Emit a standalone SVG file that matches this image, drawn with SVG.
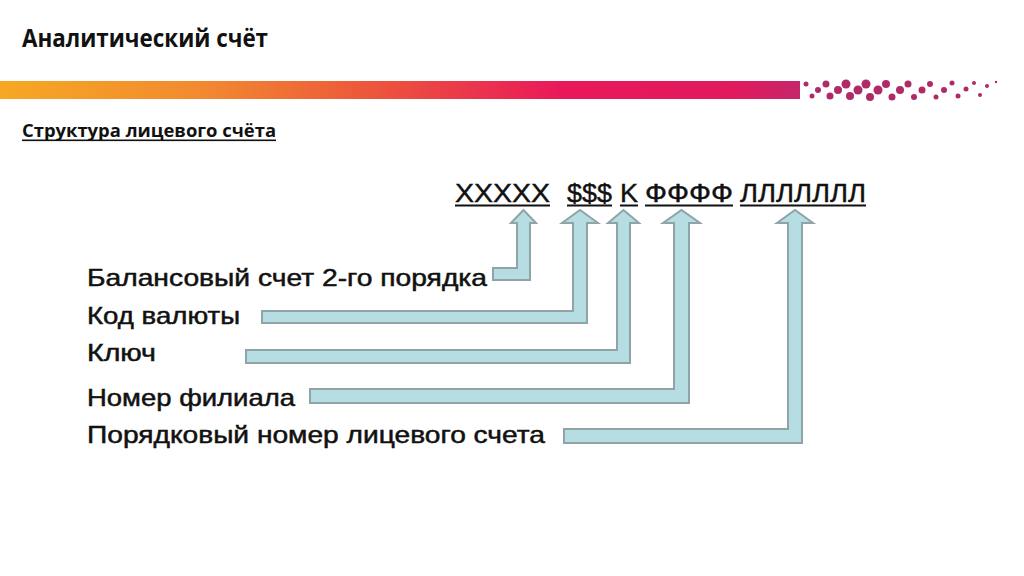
<svg xmlns="http://www.w3.org/2000/svg" width="1024" height="576" viewBox="0 0 1024 576">
<defs>
<linearGradient id="bar" x1="0" y1="0" x2="1" y2="0" gradientUnits="objectBoundingBox">
<stop offset="0" stop-color="#f6a823"/>
<stop offset="0.25" stop-color="#f28a30"/>
<stop offset="0.45" stop-color="#ec5a3a"/>
<stop offset="0.7" stop-color="#e9195a"/>
<stop offset="0.92" stop-color="#e01a5e"/>
<stop offset="1" stop-color="#c5276a"/>
</linearGradient>
<style>
.t{font-family:"Open Sans","Liberation Sans",sans-serif;font-weight:bold;fill:#111}
.code{font-family:"Liberation Sans",Arial,sans-serif;font-size:25px;fill:#111;stroke:#111;stroke-width:0.4}
.lbl{font-family:"Liberation Sans",Arial,sans-serif;font-size:24px;fill:#111;stroke:#111;stroke-width:0.5}
.arr{fill:#b6dde2;stroke:#8fa4a7;stroke-width:2;stroke-linejoin:miter}
.dot{fill:#b02a68}
</style>
</defs>
<rect width="1024" height="576" fill="#fff"/>
<g id="header">
<text class="t" x="22" y="47" font-size="25" textLength="246" lengthAdjust="spacingAndGlyphs">Аналитический счёт</text>
<rect x="0" y="81" width="800" height="18" fill="url(#bar)"/>
<g class="dot">
<circle cx="806" cy="84" r="2.5"/><circle cx="812" cy="96" r="2.5"/><circle cx="818" cy="90" r="3"/>
<circle cx="826" cy="84" r="3.5"/><circle cx="830" cy="96" r="3.5"/><circle cx="838" cy="90" r="4"/>
<circle cx="846" cy="84" r="4.5"/><circle cx="850" cy="96" r="4"/><circle cx="858" cy="90" r="4.5"/>
<circle cx="866" cy="84" r="4.5"/><circle cx="870" cy="97" r="4"/><circle cx="878" cy="90" r="4.5"/>
<circle cx="886" cy="84" r="4"/><circle cx="892" cy="97" r="3.5"/><circle cx="900" cy="90" r="4"/>
<circle cx="908" cy="84" r="3.5"/><circle cx="914" cy="97" r="3"/><circle cx="922" cy="90" r="3.5"/>
<circle cx="930" cy="84" r="3"/><circle cx="936" cy="97" r="2.5"/><circle cx="944" cy="90" r="3"/>
<circle cx="952" cy="83" r="2.5"/><circle cx="958" cy="96" r="2.5"/><circle cx="966" cy="89" r="2.5"/>
<circle cx="974" cy="83" r="2"/><circle cx="980" cy="95" r="2"/><circle cx="987" cy="86" r="2"/>
<circle cx="996" cy="82" r="1.2"/>
</g>
<text class="t" x="22" y="137" font-size="17" textLength="254" lengthAdjust="spacingAndGlyphs">Структура лицевого счёта</text>
<rect x="22" y="139.5" width="254" height="1.6" fill="#111"/>
</g>
<g id="code">
<text class="code" x="455" y="202" textLength="95" lengthAdjust="spacingAndGlyphs">XXXXX</text>
<text class="code" x="567" y="202" textLength="45" lengthAdjust="spacingAndGlyphs">$$$</text>
<text class="code" x="620" y="202" textLength="18" lengthAdjust="spacingAndGlyphs">K</text>
<text class="code" x="645" y="202" textLength="88" lengthAdjust="spacingAndGlyphs">ФФФФ</text>
<text class="code" x="740" y="202" textLength="126" lengthAdjust="spacingAndGlyphs">ЛЛЛЛЛЛЛ</text>
<g fill="#111">
<rect x="455" y="204.5" width="95" height="2"/>
<rect x="567" y="204.5" width="45" height="2"/>
<rect x="620" y="204.5" width="18" height="2"/>
<rect x="645" y="204.5" width="88" height="2"/>
<rect x="740" y="204.5" width="126" height="2"/>
</g>
</g>
<g id="label1"><text class="lbl" x="87" y="286" textLength="400" lengthAdjust="spacingAndGlyphs">Балансовый  счет 2-го порядка</text></g>
<g id="label2"><text class="lbl" x="87" y="324" textLength="153" lengthAdjust="spacingAndGlyphs">Код валюты</text></g>
<g id="label3"><text class="lbl" x="87" y="361" textLength="69" lengthAdjust="spacingAndGlyphs">Ключ</text></g>
<g id="label4"><text class="lbl" x="87" y="406" textLength="208" lengthAdjust="spacingAndGlyphs">Номер  филиала</text></g>
<g id="label5"><text class="lbl" x="87" y="443" textLength="458" lengthAdjust="spacingAndGlyphs">Порядковый  номер лицевого счета</text></g>
<g id="connectors">
<path class="arr" d="M493 268 L517 268 L517 223 L511 223 L523.5 210 L536 223 L530 223 L530 280 L493 280 Z"/>
<path class="arr" d="M262 311 L573 311 L573 223 L562 223 L580 210 L598 223 L587 223 L587 323 L262 323 Z"/>
<path class="arr" d="M246 350 L617 350 L617 223 L608 223 L623.5 210 L639 223 L630 223 L630 363 L246 363 Z"/>
<path class="arr" d="M310 389 L674 389 L674 223 L663 223 L681.5 210 L700 223 L689 223 L689 403 L310 403 Z"/>
<path class="arr" d="M564 429 L788 429 L788 223 L777 223 L795 210 L813 223 L802 223 L802 443 L564 443 Z"/>
</g>
</svg>
